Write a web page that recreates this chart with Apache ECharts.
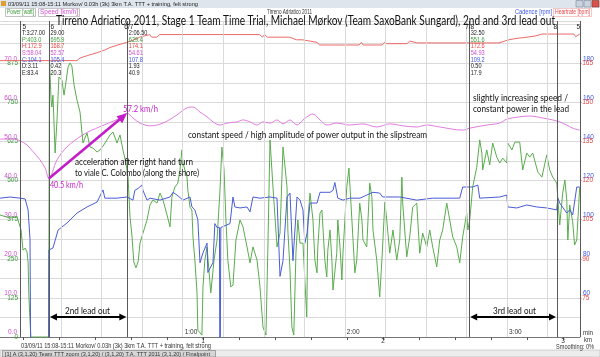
<!DOCTYPE html>
<html><head><meta charset="utf-8">
<script src="https://cdn.jsdelivr.net/npm/echarts@6/dist/echarts.min.js"></script>
<style>html,body{margin:0;padding:0;background:#fff}#c{width:600px;height:357px}</style>
</head><body><div id="c"></div>
<script>
// ---------------- data (time in seconds, values in native units) ----------------
const powerSeries = [[-7.6,390],[-3.9,380],[-1.3,384],[0.2,342],[0.9,278],[1.7,284],[2.4,272],[2.8,237],[3.1,128],[3.8,0],[10.4,0],[10.7,885],[11.3,757],[11.6,735],[12.0,773],[12.8,588],[13.5,694],[14.2,831],[15.3,821],[16.1,773],[16.8,815],[17.6,863],[18.3,876],[19.0,866],[19.8,805],[20.9,757],[22.0,719],[23.1,620],[24.6,652],[25.7,607],[26.8,604],[28.3,591],[29.4,598],[30.5,610],[32.0,630],[33.1,646],[34.2,655],[35.7,620],[36.8,646],[37.9,598],[39.0,556],[39.8,508],[40.5,384],[41.2,326],[41.9,240],[42.7,221],[43.5,240],[44.2,300],[45.3,332],[46.8,374],[47.9,422],[49.0,438],[50.5,428],[51.6,460],[52.7,438],[54.2,390],[55.3,352],[56.0,447],[57.1,479],[58.2,492],[59.0,534],[59.7,598],[60.1,556],[61.6,511],[61.9,470],[62.7,415],[63.4,406],[63.8,320],[64.5,246],[65.3,141],[65.6,22],[67.1,6],[67.5,160],[68.2,246],[69.0,288],[69.7,214],[70.4,141],[71.6,246],[72.7,310],[73.8,470],[74.5,607],[75.3,534],[76.0,374],[76.7,246],[77.8,160],[78.6,166],[79.7,310],[81.2,374],[82.3,352],[83.8,288],[84.9,237],[86.0,288],[87.5,246],[88.6,160],[89.7,32],[90.8,6],[91.5,278],[92.3,630],[93.4,479],[94.9,288],[96.0,332],[97.1,607],[97.8,550],[98.6,479],[98.9,342],[99.7,214],[100.4,32],[101.1,6],[101.9,268],[102.6,374],[103.4,300],[104.5,300],[105.9,64],[106.3,374],[107.1,460],[108.2,374],[108.9,246],[109.7,205],[110.0,288],[110.8,396],[111.5,406],[112.6,246],[113.3,192],[113.7,278],[114.5,342],[115.2,246],[115.6,150],[117.0,268],[117.4,374],[118.2,288],[118.9,182],[119.3,268],[120.7,479],[121.5,540],[122.6,374],[123.7,205],[124.4,246],[125.5,428],[126.3,374],[126.7,310],[128.1,288],[129.2,492],[130.0,447],[130.4,342],[131.8,246],[132.9,128],[133.7,246],[134.8,431],[135.5,374],[136.6,268],[137.8,342],[139.2,246],[140.3,310],[141.1,511],[141.4,428],[142.9,256],[144.0,320],[145.1,415],[146.6,428],[147.7,268],[148.8,332],[150.3,288],[151.4,342],[152.5,288],[154.0,224],[155.1,310],[156.2,342],[157.7,428],[158.8,374],[159.9,320],[161.4,288],[162.5,237],[163.6,320],[165.1,396],[165.5,342],[166.2,374],[167.3,479],[168.8,543],[169.9,630],[170.7,588],[171.0,534],[172.5,598],[173.6,550],[174.7,620],[176.2,575],[177.3,556],[178.4,572],[179.9,556],[180.3,620],[181.8,598],[182.9,623],[184.7,623],[185.8,534],[187.3,588],[188.4,575],[189.5,588],[191.4,527],[192.9,511],[194.7,582],[195.8,534],[196.9,511],[198.4,492],[199.5,358],[200.6,460],[201.4,502],[202.1,438],[202.5,310],[203.2,422],[204.3,368],[205.0,294],[205.8,310],[206.9,479]];
const speedSeries = [[-7.6,50.6],[-2.8,50.6],[-0.2,50.2],[2.4,49.1],[4.6,47.4],[7.2,45.3],[9.1,43.2],[10.5,40.5],[13.5,45.3],[17.2,48.6],[23.1,51.7],[29.4,53.8],[35.7,55.6],[39.4,57.2],[41.6,56.0],[44.2,54.7],[47.9,54.0],[52.7,54.7],[57.9,56.8],[61.6,58.6],[63.8,58.8],[66.4,57.5],[69.0,56.3],[71.2,55.0],[73.8,54.2],[76.4,54.7],[80.1,55.0],[82.3,55.5],[84.9,55.0],[87.5,54.2],[89.7,55.0],[92.3,54.7],[94.9,55.5],[97.1,54.5],[99.7,55.5],[102.3,54.2],[104.5,55.5],[107.1,56.8],[108.2,57.0],[110.8,55.5],[113.4,54.2],[117.0,54.7],[121.8,54.2],[126.6,54.5],[131.8,53.7],[136.6,54.5],[141.4,54.0],[146.6,53.7],[150.3,54.2],[155.1,53.7],[163.6,52.9],[166.2,53.4],[172.5,54.2],[177.3,54.7],[179.9,55.7],[184.7,56.3],[188.4,56.5],[193.2,56.0],[196.9,55.5],[199.5,55.0],[202.1,54.2],[204.3,53.4],[206.9,52.9]];
const cadenceSeries = [[-7.6,111],[-3.9,111.6],[-0.2,111],[1.7,110.6],[2.8,105],[3.5,90],[3.9,0],[10.3,0],[10.5,84.5],[12.0,85.5],[13.9,94.7],[17.2,98.3],[20.9,103.4],[24.6,106.5],[28.3,109],[30.5,115.2],[31.2,111],[35.7,111],[39.4,111.6],[41.6,110],[42.3,115],[43.5,116],[44.9,117.7],[45.3,115],[46.8,110],[47.9,111],[51.6,110],[55.3,111.6],[56.4,114],[57.9,112.6],[60.1,110],[62.7,111.6],[63.4,106.5],[64.5,105],[65.6,100],[66.4,78],[67.5,83],[69.0,88],[69.3,73],[71.2,78],[71.9,98],[72.7,96],[73.6,96],[73.8,0],[74.1,96],[77.5,98],[78.6,111.6],[79.3,106.5],[81.2,106],[83.8,106.5],[84.9,104],[86.0,111.6],[88.6,111],[92.3,111.6],[94.9,111],[96.0,71],[97.1,79],[98.6,111.6],[99.7,113.6],[100.8,79],[102.3,111.6],[103.4,110],[104.5,105],[105.2,88],[106.0,93],[107.1,108.5],[109.7,108.5],[110.8,114],[114.5,114],[115.6,115],[116.3,119],[117.0,120],[117.4,111],[119.3,110],[121.8,111],[125.6,111],[128.1,112.6],[130.4,114],[132.9,113.6],[134.0,111.6],[140.3,111.6],[146.6,110],[152.5,111],[162.5,111],[163.6,116.7],[167.3,116.7],[169.2,117.7],[169.9,111],[177.3,111.6],[179.9,112.6],[180.3,106.5],[183.6,106],[187.3,107.5],[191.0,106.5],[194.7,106],[198.4,105],[198.8,111],[199.5,108.5],[202.1,103.4],[203.2,105],[204.3,102.4],[205.8,116.7],[206.9,116.7]];
const heartSeries = [[-7.6,166],[20.9,166],[22,167],[24.9,168],[28.2,169],[31,170],[33,171],[36,172],[39.3,173],[42,174],[44.1,175],[47.8,176],[48.5,175],[50.4,175],[51.5,176],[88.4,176],[89.5,175],[90.3,176],[91.3,175],[99.5,175],[102.1,174],[104.3,174],[109.8,173],[110.6,172],[125.3,172],[126.1,173],[126.8,172],[133.8,172],[134.6,173],[135.5,172.5],[143,172.5],[144,173.5],[146.8,172.8],[177,172.8],[180.7,174],[183.3,174.5],[187.4,175],[190.7,175.5],[193,176.2],[204.7,176.2],[205.4,175.2],[206.9,176.2]];

const lapTimes = [0, 10.5, 39.5, 166, 198.5, 207];
const lapLabels = ['5', '6', '6/7', '7/8', '8', '5'];
const statColumns = [
  ['T:3:27.00', 'P:403.0', 'H:172.9', 'S:58.04', 'C:104.1', 'D:3.11', 'E:83.4'],
  ['29.00', '695.9', '168.7', '52.57', '105.4', '0.42', '20.3'],
  ['2:06.50', '629.4', '174.1', '54.61', '107.8', '1.93', '40.9'],
  ['32.50', '551.6', '172.6', '54.93', '109.2', '0.50', '17.9']
];
const statLapIndex = [0, 1, 2, 3];
const minuteTicks = [60, 120, 180];
const kmLabels = [1, 2, 3];
const accelStart = [10.5, 40.5];   // km/h at start of acceleration
const accelEnd = [39.4, 57.2];     // km/h at end of acceleration
const titleText = 'Tirreno Adriatico 2011, Stage 1 Team Time Trial, Michael Mørkov (Team SaxoBank Sungard), 2nd and 3rd lead out';
const fileText = '03/09/11 15:08-15:11 Morkov/ 0.03h (3k) 3km T.A. TTT + training, felt strong';

// ---------------- styles ----------------
const C_POWER = '#5aac4e', C_SPEED = '#e07ce0', C_CAD = '#4a5cd6', C_HR = '#ec6a6a';
const L_POWER = '#3a9a3a', L_SPEED = '#d04fd0', L_CAD = '#3b55e0', L_HR = '#e24444';
const MAG = '#c21ec8';
const UI = 'Liberation Sans';
const ANN = 'Lato';

const P_MAX = 1010;
const gridTimes = []; for (let t = 0; t <= 195; t += 15) gridTimes.push(t);
const kmTicks = []; for (let i = 0; i <= 15; i++) kmTicks.push(+(i * 0.2).toFixed(1));

const chart = echarts.init(document.getElementById('c'), null, {renderer: 'canvas', width: 600, height: 357});

const lineBase = {type: 'line', showSymbol: false, symbol: 'none', animation: false, silent: true, clip: true, emphasis: {disabled: true}};

chart.setOption({
  animation: false,
  backgroundColor: '#fff',
  grid: {left: 0, right: 20, top: 21, bottom: 20, containLabel: false, outerBoundsMode: 'none'},
  xAxis: [
    {type: 'value', min: -7.6, max: 207, position: 'bottom',
     axisLine: {show: true, lineStyle: {color: '#777', width: 1}},
     axisTick: {show: true, inside: true, length: 3, customValues: minuteTicks, lineStyle: {color: '#555'}},
     axisLabel: {show: true, inside: true, customValues: minuteTicks, formatter: v => Math.round(v / 60) + ':00',
                 fontSize: 6.5, fontFamily: UI, color: '#333', align: 'left', margin: 1, padding: [0, 0, 0, 2]},
     splitLine: {show: false}},
    {type: 'value', min: -0.128, max: 3.094, position: 'bottom',
     axisLine: {show: false},
     axisTick: {show: true, length: 3, customValues: kmTicks, lineStyle: {color: '#555'}},
     axisLabel: {show: true, customValues: kmLabels, formatter: v => String(v), fontSize: 6.5, fontFamily: UI, color: '#333', margin: 1},
     splitLine: {show: false}}
  ],
  yAxis: [
    {type: 'value', min: 0, max: P_MAX, interval: 62.5, position: 'left', offset: -20,
     axisLine: {show: false}, axisTick: {show: false},
     axisLabel: {formatter: v => (v % 125 === 0 && v <= 875) ? String(v) : '', color: L_POWER, fontSize: 6.5, fontFamily: UI, margin: 2},
     splitLine: {show: true, lineStyle: {color: '#dadada', width: 1}}},
    {type: 'value', min: 0, max: P_MAX / 12.5, interval: 5, position: 'left', offset: -20,
     axisLine: {show: false}, axisTick: {show: false},
     axisLabel: {formatter: v => (Math.abs(v % 10) < 1e-6 && v <= 70) ? v.toFixed(1) : '', color: L_SPEED, fontSize: 6.5, fontFamily: UI, margin: 3, verticalAlign: 'bottom', padding: [0, 0, 1, 0]},
     splitLine: {show: false}},
    {type: 'value', min: 40, max: 40 + P_MAX / 6.25, interval: 10, position: 'right', offset: 0,
     axisLine: {show: false}, axisTick: {show: false},
     axisLabel: {formatter: v => ((v - 40) % 20 === 0 && v > 40 && v <= 180) ? String(v) : '', color: L_CAD, fontSize: 6.5, fontFamily: UI, margin: 3, verticalAlign: 'bottom', padding: [0, 0, 1, 0]},
     splitLine: {show: false}},
    {type: 'value', min: 60, max: 60 + P_MAX * 0.12, interval: 7.5, position: 'right', offset: 0,
     axisLine: {show: false}, axisTick: {show: false},
     axisLabel: {formatter: v => (Math.abs((v - 60) % 15) < 1e-6 && v > 60 && v <= 165) ? '-' + v : '', color: L_HR, fontSize: 6.5, fontFamily: UI, margin: 0},
     splitLine: {show: false}}
  ],
  series: [
    {type: 'line', name: 'grid', data: [], silent: true, z: 1, animation: false,
     markLine: {silent: true, symbol: 'none', animation: false, label: {show: false}, emphasis: {disabled: true},
                lineStyle: {color: '#dadada', width: 1, type: 'solid'}, data: gridTimes.map(t => ({xAxis: t}))}},
    {type: 'line', name: 'laps', data: [], silent: true, z: 1, animation: false,
     markLine: {silent: true, symbol: 'none', animation: false, label: {show: false}, emphasis: {disabled: true},
                lineStyle: {color: '#5a5a5a', width: 1, type: 'solid'}, data: lapTimes.map(t => ({xAxis: t}))}},
    Object.assign({}, lineBase, {name: 'Heartrate', yAxisIndex: 3, data: heartSeries, z: 2, lineStyle: {color: C_HR, width: 1}}),
    Object.assign({}, lineBase, {name: 'Speed', yAxisIndex: 1, data: speedSeries, z: 2, smooth: 0.35, lineStyle: {color: C_SPEED, width: 1}}),
    Object.assign({}, lineBase, {name: 'Power', yAxisIndex: 0, data: powerSeries, z: 3, lineStyle: {color: C_POWER, width: 1}}),
    Object.assign({}, lineBase, {name: 'Cadence', yAxisIndex: 2, data: cadenceSeries, z: 4, lineStyle: {color: C_CAD, width: 1}})
  ]
});

// ---------------- annotations (graphic layer) ----------------
const mctx = document.createElement('canvas').getContext('2d');
function txt(str, x, y, size, color, family, targetW, extra) {
  const font = size + 'px "' + family + '"';
  mctx.font = font;
  const w = mctx.measureText(str).width || 1;
  const sx = targetW ? targetW / w : 1;
  return Object.assign({type: 'text', x: x, y: y, scaleX: sx, silent: true, z: 200,
    style: {text: str, font: font, fill: color, align: 'left', verticalAlign: 'middle'}}, extra || {});
}
function arrowEls(x1, y1, x2, y2, color, w, hl, hw, both) {
  const a = Math.atan2(y2 - y1, x2 - x1), c = Math.cos(a), s = Math.sin(a);
  const head = (x, y, cc, ss) => ({type: 'polygon', silent: true, z: 210,
    shape: {points: [[x, y], [x - hl * cc + hw * ss, y - hl * ss - hw * cc], [x - hl * cc - hw * ss, y - hl * ss + hw * cc]]},
    style: {fill: color}});
  const sx = both ? x1 + hl * 0.7 * c : x1, sy = both ? y1 + hl * 0.7 * s : y1;
  const els = [{type: 'line', silent: true, z: 209, shape: {x1: sx, y1: sy, x2: x2 - hl * 0.7 * c, y2: y2 - hl * 0.7 * s}, style: {stroke: color, lineWidth: w}}];
  els.push(head(x2, y2, c, s));
  if (both) els.push(head(x1, y1, -c, -s));
  return els;
}

const toPx = (t, v, yi) => chart.convertToPixel({xAxisIndex: 0, yAxisIndex: yi}, [t, v]);
const lapX = lapTimes.map(t => toPx(t, 0, 0)[0]);
const g = [];

// window title bar
g.push({type: 'rect', silent: true, z: 150, shape: {x: 0, y: 0, width: 600, height: 8}, style: {fill: '#dfe5ec'}});
g.push({type: 'rect', silent: true, z: 151, shape: {x: 1, y: 1, width: 5, height: 5}, style: {fill: '#e0a030'}});
g.push(txt(fileText, 8, 4.2, 6, '#222', UI, 190));
g.push({type: 'rect', silent: true, z: 151, shape: {x: 576, y: 0.5, width: 7, height: 6.5}, style: {fill: '#c9d3df', stroke: '#7a8797', lineWidth: 0.6}});
g.push({type: 'rect', silent: true, z: 151, shape: {x: 584, y: 0.5, width: 7, height: 6.5}, style: {fill: '#c9d3df', stroke: '#7a8797', lineWidth: 0.6}});
g.push({type: 'rect', silent: true, z: 151, shape: {x: 592, y: 0.5, width: 7, height: 6.5}, style: {fill: '#d9534a', stroke: '#8a3030', lineWidth: 0.6}});

// legend row
g.push({type: 'rect', silent: true, z: 150, shape: {x: 5.5, y: 8.5, width: 30, height: 8}, style: {fill: 'none', stroke: '#9a9a9a', lineWidth: 0.6}});
g.push(txt('Power [watt]', 7, 12.7, 6.5, L_POWER, UI, 27));
g.push({type: 'rect', silent: true, z: 150, shape: {x: 38.5, y: 8.5, width: 41, height: 8}, style: {fill: 'none', stroke: '#9a9a9a', lineWidth: 0.6}});
g.push(txt('Speed [km/h]', 40, 12.7, 6.5, L_SPEED, UI, 38));
g.push(txt('Cadence [rpm]', 515, 12.7, 6.5, L_CAD, UI, 37));
g.push({type: 'rect', silent: true, z: 150, shape: {x: 553.5, y: 8.5, width: 38, height: 8}, style: {fill: 'none', stroke: L_HR, lineWidth: 0.6, lineDash: [1, 1]}});
g.push(txt('Heartrate [bpm]', 555, 12.7, 6.5, L_HR, UI, 35));

// small chart name and big title
g.push(txt('Tirreno Adriatico 2011', 267, 12, 6.5, '#333', UI, 45));
g.push(txt(titleText, 56, 21, 13, '#111', ANN, 499));

// lap labels and statistics columns
const lapLabelShift = [2, 1.5, -3, -4, -3.5, -3.5];
lapLabels.forEach((l, i) => g.push(txt(l, lapX[i] + lapLabelShift[i], 27.5, 6.5, '#222', UI, 0)));
const statColors = ['#222', L_POWER, L_HR, L_SPEED, L_CAD, '#222', '#222'];
const rowY = [33.3, 40, 46.6, 53.3, 60, 66.6, 73.2];
statColumns.forEach((col, ci) => {
  const x0 = lapX[statLapIndex[ci]] + 1.5;
  col.forEach((s, ri) => g.push(txt(s, x0, rowY[ri], 6.5, statColors[ri], UI, 0, {scaleX: 0.86})));
});

// acceleration arrow and labels
const pA = toPx(accelStart[0], accelStart[1], 1), pB = toPx(accelEnd[0], accelEnd[1], 1);
arrowEls(pA[0], pA[1], pB[0], pB[1], MAG, 2.6, 10, 4.5, false).forEach(e => g.push(e));
g.push(txt(accelStart[1].toFixed(1) + ' km/h', pA[0] + 1, pA[1] + 6.5, 10, MAG, ANN, 33));
g.push(txt(accelEnd[1].toFixed(1) + ' km/h', pB[0] - 4, pB[1] - 5, 10, MAG, ANN, 35));

// annotation texts
g.push(txt('acceleration after right hand turn', 75, 162, 10, '#111', ANN, 118));
g.push(txt('to viale C. Colombo (along the shore)', 75, 172.5, 10, '#111', ANN, 124));
g.push(txt('constant speed / high amplitude of power output in the slipstream', 188, 135, 10, '#111', ANN, 239));
g.push(txt('slightly increasing speed /', 473, 98, 10, '#111', ANN, 95));
g.push(txt('constant power in the lead', 473, 109, 10, '#111', ANN, 96));

// lead-out arrows
const yLead = 317;
arrowEls(lapX[1] + 1, yLead, lapX[2] - 1, yLead, '#000', 2, 7, 3.5, true).forEach(e => g.push(e));
g.push(txt('2nd lead out', 65, 310.5, 10, '#111', ANN, 45));
arrowEls(lapX[3] + 1, yLead, lapX[4] - 1, yLead, '#000', 2, 7, 3.5, true).forEach(e => g.push(e));
g.push(txt('3rd lead out', 493, 311, 10, '#111', ANN, 43));

// axis unit labels, footer, status bar
g.push(txt('min', 583, 333.5, 6.5, '#333', UI, 10));
g.push(txt('km', 584, 340.5, 6.5, '#333', UI, 8));
g.push(txt(fileText, 21, 346.5, 6.5, '#333', UI, 190));
g.push(txt('Smoothing: 0%', 556, 347.5, 6.5, '#333', UI, 38));
g.push({type: 'rect', silent: true, z: 150, shape: {x: 0, y: 350, width: 600, height: 7}, style: {fill: '#ececec', stroke: '#b8b8b8', lineWidth: 0.6}});
g.push({type: 'rect', silent: true, z: 151, shape: {x: 2.5, y: 350.5, width: 213, height: 6.5}, style: {fill: '#d6d6d6', stroke: '#777', lineWidth: 0.6}});
g.push(txt('[1] A (3,1,20) Team TTT zoom (3,1,20) / (3,1,20) T.A. TTT 2011 (3,1,20) / Finalpoint', 5, 354, 6, '#333', UI, 205));

chart.setOption({graphic: {elements: g}});
</script>
</body></html>
